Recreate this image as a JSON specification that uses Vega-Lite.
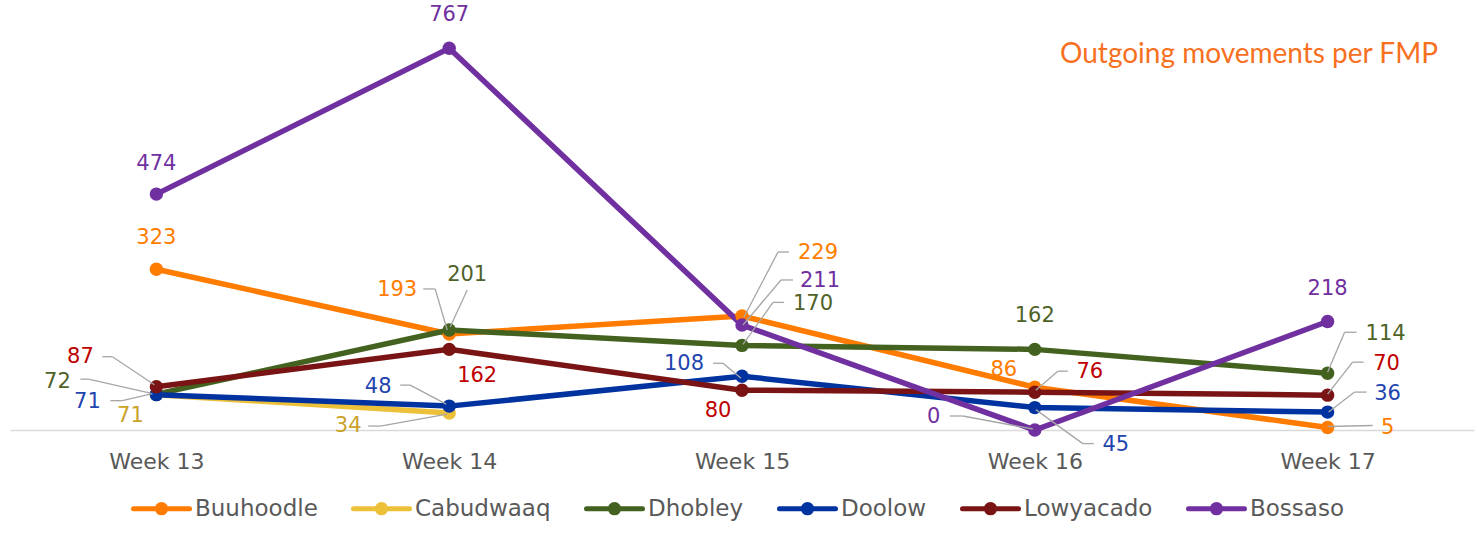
{
  "$schema": "https://vega.github.io/schema/vega-lite/v6.json",
  "width": 1464,
  "height": 428,
  "padding": {"left": 10, "top": 2, "right": 3, "bottom": 0},
  "background": "white",
  "config": {
    "view": {"stroke": null},
    "font": "DejaVu Sans",
    "text": {"fontSize": 21, "font": "DejaVu Sans", "baseline": "middle", "align": "center"},
    "rule": {"color": "#A6A6A6", "strokeWidth": 1.3}
  },
  "title": {
    "text": "Outgoing movements per FMP",
    "anchor": "end",
    "frame": "group",
    "font": "Lato",
    "fontSize": 28,
    "fontWeight": "normal",
    "color": "#F7701F",
    "offset": -67,
    "dx": -36
  },
  "data": {
    "values": [
      {"series": "Buuhoodle", "week": "Week 13", "value": 323},
      {"series": "Buuhoodle", "week": "Week 14", "value": 193},
      {"series": "Buuhoodle", "week": "Week 15", "value": 229},
      {"series": "Buuhoodle", "week": "Week 16", "value": 86},
      {"series": "Buuhoodle", "week": "Week 17", "value": 5},
      {"series": "Cabudwaaq", "week": "Week 13", "value": 71},
      {"series": "Cabudwaaq", "week": "Week 14", "value": 34},
      {"series": "Dhobley", "week": "Week 13", "value": 72},
      {"series": "Dhobley", "week": "Week 14", "value": 201},
      {"series": "Dhobley", "week": "Week 15", "value": 170},
      {"series": "Dhobley", "week": "Week 16", "value": 162},
      {"series": "Dhobley", "week": "Week 17", "value": 114},
      {"series": "Doolow", "week": "Week 13", "value": 71},
      {"series": "Doolow", "week": "Week 14", "value": 48},
      {"series": "Doolow", "week": "Week 15", "value": 108},
      {"series": "Doolow", "week": "Week 16", "value": 45},
      {"series": "Doolow", "week": "Week 17", "value": 36},
      {"series": "Lowyacado", "week": "Week 13", "value": 87},
      {"series": "Lowyacado", "week": "Week 14", "value": 162},
      {"series": "Lowyacado", "week": "Week 15", "value": 80},
      {"series": "Lowyacado", "week": "Week 16", "value": 76},
      {"series": "Lowyacado", "week": "Week 17", "value": 70},
      {"series": "Bossaso", "week": "Week 13", "value": 474},
      {"series": "Bossaso", "week": "Week 14", "value": 767},
      {"series": "Bossaso", "week": "Week 15", "value": 211},
      {"series": "Bossaso", "week": "Week 16", "value": 0},
      {"series": "Bossaso", "week": "Week 17", "value": 218}
    ]
  },
  "encoding": {
    "x": {
      "field": "week", "type": "ordinal",
      "scale": {"type": "point", "padding": 0.5},
      "axis": {"title": null, "labelAngle": 0, "ticks": false, "grid": false, "domainColor": "#D9D9D9", "domainWidth": 1.5, "labelFontSize": 22, "labelColor": "#595959", "labelPadding": 21, "labelFont": "DejaVu Sans"}
    },
    "y": {"field": "value", "type": "quantitative", "scale": {"domain": [0, 860]}, "axis": null}
  },
  "layer": [
    {
      "mark": {"type": "line", "strokeWidth": 5.5, "point": {"filled": true, "size": 180}},
      "encoding": {
        "color": {
          "field": "series", "type": "nominal",
          "scale": {
            "domain": ["Buuhoodle", "Cabudwaaq", "Dhobley", "Doolow", "Lowyacado", "Bossaso"],
            "range": ["#FF7C00", "#EDC03A", "#43611F", "#0033A0", "#7A1414", "#7030A0"]
          },
          "legend": {
            "orient": "none", "legendX": 121, "legendY": 476, "direction": "horizontal", "title": null,
            "labelFontSize": 23, "labelColor": "#595959", "labelFont": "DejaVu Sans",
            "symbolType": "M-1,0L1,0M0,-0.15A0.15,0.15,0,1,1,0,0.15A0.15,0.15,0,1,1,0,-0.15",
            "symbolSize": 3136, "symbolStrokeWidth": 5, "columnPadding": 25, "labelOffset": 3,
            "encode": {"symbols": {"update": {"fill": {"scale": "color", "field": "value"}, "stroke": {"scale": "color", "field": "value"}, "strokeWidth": {"value": 5}, "strokeCap": {"value": "round"}, "opacity": {"value": 1}}}}
          }
        }
      }
    },
    {"transform": [{"filter": "datum.series==='Bossaso' && datum.week==='Week 13'"}], "mark": {"type": "text", "dy": -30, "color": "#7030A0"}, "encoding": {"text": {"field": "value"}}},
    {"transform": [{"filter": "datum.series==='Buuhoodle' && datum.week==='Week 13'"}], "mark": {"type": "text", "dy": -31, "color": "#FF7C00"}, "encoding": {"text": {"field": "value"}}},
    {"transform": [{"filter": "datum.series==='Lowyacado' && datum.week==='Week 13'"}], "layer": [
      {"mark": {"type": "rule", "xOffset": -54, "yOffset": -30, "x2Offset": -44, "y2Offset": -30}, "encoding": {"x2": {"field": "week"}, "y2": {"field": "value"}}},
      {"mark": {"type": "rule", "xOffset": -44, "yOffset": -30, "x2Offset": -2, "y2Offset": -2}, "encoding": {"x2": {"field": "week"}, "y2": {"field": "value"}}},
      {"mark": {"type": "text", "dx": -76, "dy": -30, "color": "#C00000"}, "encoding": {"text": {"field": "value"}}}
    ]},
    {"transform": [{"filter": "datum.series==='Dhobley' && datum.week==='Week 13'"}], "layer": [
      {"mark": {"type": "rule", "xOffset": -76, "yOffset": -15, "x2Offset": -68, "y2Offset": -15}, "encoding": {"x2": {"field": "week"}, "y2": {"field": "value"}}},
      {"mark": {"type": "rule", "xOffset": -68, "yOffset": -15, "x2Offset": -6, "y2Offset": -1}, "encoding": {"x2": {"field": "week"}, "y2": {"field": "value"}}},
      {"mark": {"type": "text", "dx": -99, "dy": -12, "color": "#4F6228"}, "encoding": {"text": {"field": "value"}}}
    ]},
    {"transform": [{"filter": "datum.series==='Doolow' && datum.week==='Week 13'"}], "layer": [
      {"mark": {"type": "rule", "xOffset": -46, "yOffset": 6, "x2Offset": -34, "y2Offset": 6}, "encoding": {"x2": {"field": "week"}, "y2": {"field": "value"}}},
      {"mark": {"type": "rule", "xOffset": -34, "yOffset": 6, "x2Offset": -4, "y2Offset": -1}, "encoding": {"x2": {"field": "week"}, "y2": {"field": "value"}}},
      {"mark": {"type": "text", "dx": -69, "dy": 7, "color": "#1F45AE"}, "encoding": {"text": {"field": "value"}}}
    ]},
    {"transform": [{"filter": "datum.series==='Cabudwaaq' && datum.week==='Week 13'"}], "mark": {"type": "text", "dx": -26, "dy": 21, "color": "#C9A227"}, "encoding": {"text": {"field": "value"}}},
    {"transform": [{"filter": "datum.series==='Bossaso' && datum.week==='Week 14'"}], "mark": {"type": "text", "dy": -33, "color": "#7030A0"}, "encoding": {"text": {"field": "value"}}},
    {"transform": [{"filter": "datum.series==='Buuhoodle' && datum.week==='Week 14'"}], "layer": [
      {"mark": {"type": "rule", "xOffset": -26, "yOffset": -45, "x2Offset": -14, "y2Offset": -45}, "encoding": {"x2": {"field": "week"}, "y2": {"field": "value"}}},
      {"mark": {"type": "rule", "xOffset": -14, "yOffset": -45, "x2Offset": -2, "y2Offset": -4}, "encoding": {"x2": {"field": "week"}, "y2": {"field": "value"}}},
      {"mark": {"type": "text", "dx": -52, "dy": -44, "color": "#FF7C00"}, "encoding": {"text": {"field": "value"}}}
    ]},
    {"transform": [{"filter": "datum.series==='Dhobley' && datum.week==='Week 14'"}], "layer": [
      {"mark": {"type": "rule", "xOffset": 18, "yOffset": -40, "x2Offset": 1, "y2Offset": -3}, "encoding": {"x2": {"field": "week"}, "y2": {"field": "value"}}},
      {"mark": {"type": "text", "dx": 18, "dy": -55, "color": "#4F6228"}, "encoding": {"text": {"field": "value"}}}
    ]},
    {"transform": [{"filter": "datum.series==='Lowyacado' && datum.week==='Week 14'"}], "mark": {"type": "text", "dx": 28, "dy": 27, "color": "#C00000"}, "encoding": {"text": {"field": "value"}}},
    {"transform": [{"filter": "datum.series==='Doolow' && datum.week==='Week 14'"}], "layer": [
      {"mark": {"type": "rule", "xOffset": -49, "yOffset": -21, "x2Offset": -39, "y2Offset": -21}, "encoding": {"x2": {"field": "week"}, "y2": {"field": "value"}}},
      {"mark": {"type": "rule", "xOffset": -39, "yOffset": -21, "x2Offset": -3, "y2Offset": -2}, "encoding": {"x2": {"field": "week"}, "y2": {"field": "value"}}},
      {"mark": {"type": "text", "dx": -71, "dy": -19, "color": "#1F45AE"}, "encoding": {"text": {"field": "value"}}}
    ]},
    {"transform": [{"filter": "datum.series==='Cabudwaaq' && datum.week==='Week 14'"}], "layer": [
      {"mark": {"type": "rule", "xOffset": -81, "yOffset": 13, "x2Offset": -69, "y2Offset": 13}, "encoding": {"x2": {"field": "week"}, "y2": {"field": "value"}}},
      {"mark": {"type": "rule", "xOffset": -69, "yOffset": 13, "x2Offset": -2, "y2Offset": 1}, "encoding": {"x2": {"field": "week"}, "y2": {"field": "value"}}},
      {"mark": {"type": "text", "dx": -101, "dy": 13, "color": "#C9A227"}, "encoding": {"text": {"field": "value"}}}
    ]},
    {"transform": [{"filter": "datum.series==='Buuhoodle' && datum.week==='Week 15'"}], "layer": [
      {"mark": {"type": "rule", "xOffset": 47, "yOffset": -64, "x2Offset": 36, "y2Offset": -64}, "encoding": {"x2": {"field": "week"}, "y2": {"field": "value"}}},
      {"mark": {"type": "rule", "xOffset": 36, "yOffset": -64, "x2Offset": 2, "y2Offset": 1}, "encoding": {"x2": {"field": "week"}, "y2": {"field": "value"}}},
      {"mark": {"type": "text", "dx": 76, "dy": -63, "color": "#FF7C00"}, "encoding": {"text": {"field": "value"}}}
    ]},
    {"transform": [{"filter": "datum.series==='Bossaso' && datum.week==='Week 15'"}], "layer": [
      {"mark": {"type": "rule", "xOffset": 51, "yOffset": -45, "x2Offset": 39, "y2Offset": -45}, "encoding": {"x2": {"field": "week"}, "y2": {"field": "value"}}},
      {"mark": {"type": "rule", "xOffset": 39, "yOffset": -45, "x2Offset": 1, "y2Offset": 0}, "encoding": {"x2": {"field": "week"}, "y2": {"field": "value"}}},
      {"mark": {"type": "text", "dx": 78, "dy": -44, "color": "#7030A0"}, "encoding": {"text": {"field": "value"}}}
    ]},
    {"transform": [{"filter": "datum.series==='Dhobley' && datum.week==='Week 15'"}], "layer": [
      {"mark": {"type": "rule", "xOffset": 42, "yOffset": -43, "x2Offset": 31, "y2Offset": -43}, "encoding": {"x2": {"field": "week"}, "y2": {"field": "value"}}},
      {"mark": {"type": "rule", "xOffset": 31, "yOffset": -43, "x2Offset": 1, "y2Offset": -1}, "encoding": {"x2": {"field": "week"}, "y2": {"field": "value"}}},
      {"mark": {"type": "text", "dx": 71, "dy": -41, "color": "#4F6228"}, "encoding": {"text": {"field": "value"}}}
    ]},
    {"transform": [{"filter": "datum.series==='Doolow' && datum.week==='Week 15'"}], "layer": [
      {"mark": {"type": "rule", "xOffset": -29, "yOffset": -13, "x2Offset": -19, "y2Offset": -13}, "encoding": {"x2": {"field": "week"}, "y2": {"field": "value"}}},
      {"mark": {"type": "rule", "xOffset": -19, "yOffset": -13, "x2Offset": -1, "y2Offset": 2}, "encoding": {"x2": {"field": "week"}, "y2": {"field": "value"}}},
      {"mark": {"type": "text", "dx": -58, "dy": -12, "color": "#1F45AE"}, "encoding": {"text": {"field": "value"}}}
    ]},
    {"transform": [{"filter": "datum.series==='Lowyacado' && datum.week==='Week 15'"}], "mark": {"type": "text", "dx": -24, "dy": 21, "color": "#C00000"}, "encoding": {"text": {"field": "value"}}},
    {"transform": [{"filter": "datum.series==='Dhobley' && datum.week==='Week 16'"}], "mark": {"type": "text", "dy": -33, "color": "#4F6228"}, "encoding": {"text": {"field": "value"}}},
    {"transform": [{"filter": "datum.series==='Buuhoodle' && datum.week==='Week 16'"}], "mark": {"type": "text", "dx": -31, "dy": -17, "color": "#FF7C00"}, "encoding": {"text": {"field": "value"}}},
    {"transform": [{"filter": "datum.series==='Lowyacado' && datum.week==='Week 16'"}], "layer": [
      {"mark": {"type": "rule", "xOffset": 33, "yOffset": -21, "x2Offset": 23, "y2Offset": -21}, "encoding": {"x2": {"field": "week"}, "y2": {"field": "value"}}},
      {"mark": {"type": "rule", "xOffset": 23, "yOffset": -21, "x2Offset": 1, "y2Offset": -2}, "encoding": {"x2": {"field": "week"}, "y2": {"field": "value"}}},
      {"mark": {"type": "text", "dx": 55, "dy": -20, "color": "#C00000"}, "encoding": {"text": {"field": "value"}}}
    ]},
    {"transform": [{"filter": "datum.series==='Doolow' && datum.week==='Week 16'"}], "layer": [
      {"mark": {"type": "rule", "xOffset": 59, "yOffset": 36, "x2Offset": 48, "y2Offset": 36}, "encoding": {"x2": {"field": "week"}, "y2": {"field": "value"}}},
      {"mark": {"type": "rule", "xOffset": 48, "yOffset": 36, "x2Offset": 1, "y2Offset": 2}, "encoding": {"x2": {"field": "week"}, "y2": {"field": "value"}}},
      {"mark": {"type": "text", "dx": 81, "dy": 37, "color": "#1F45AE"}, "encoding": {"text": {"field": "value"}}}
    ]},
    {"transform": [{"filter": "datum.series==='Bossaso' && datum.week==='Week 16'"}], "layer": [
      {"mark": {"type": "rule", "xOffset": -85, "yOffset": -14, "x2Offset": -72, "y2Offset": -14}, "encoding": {"x2": {"field": "week"}, "y2": {"field": "value"}}},
      {"mark": {"type": "rule", "xOffset": -72, "yOffset": -14, "x2Offset": -2, "y2Offset": -1}, "encoding": {"x2": {"field": "week"}, "y2": {"field": "value"}}},
      {"mark": {"type": "text", "dx": -101, "dy": -13, "color": "#7030A0"}, "encoding": {"text": {"field": "value"}}}
    ]},
    {"transform": [{"filter": "datum.series==='Bossaso' && datum.week==='Week 17'"}], "mark": {"type": "text", "dy": -33, "color": "#7030A0"}, "encoding": {"text": {"field": "value"}}},
    {"transform": [{"filter": "datum.series==='Dhobley' && datum.week==='Week 17'"}], "layer": [
      {"mark": {"type": "rule", "xOffset": 29, "yOffset": -41, "x2Offset": 17, "y2Offset": -41}, "encoding": {"x2": {"field": "week"}, "y2": {"field": "value"}}},
      {"mark": {"type": "rule", "xOffset": 17, "yOffset": -41, "x2Offset": 0, "y2Offset": -1}, "encoding": {"x2": {"field": "week"}, "y2": {"field": "value"}}},
      {"mark": {"type": "text", "dx": 58, "dy": -39, "color": "#4F6228"}, "encoding": {"text": {"field": "value"}}}
    ]},
    {"transform": [{"filter": "datum.series==='Lowyacado' && datum.week==='Week 17'"}], "layer": [
      {"mark": {"type": "rule", "xOffset": 36, "yOffset": -33, "x2Offset": 25, "y2Offset": -33}, "encoding": {"x2": {"field": "week"}, "y2": {"field": "value"}}},
      {"mark": {"type": "rule", "xOffset": 25, "yOffset": -33, "x2Offset": 0, "y2Offset": -1}, "encoding": {"x2": {"field": "week"}, "y2": {"field": "value"}}},
      {"mark": {"type": "text", "dx": 59, "dy": -31, "color": "#C00000"}, "encoding": {"text": {"field": "value"}}}
    ]},
    {"transform": [{"filter": "datum.series==='Doolow' && datum.week==='Week 17'"}], "layer": [
      {"mark": {"type": "rule", "xOffset": 39, "yOffset": -20, "x2Offset": 27, "y2Offset": -20}, "encoding": {"x2": {"field": "week"}, "y2": {"field": "value"}}},
      {"mark": {"type": "rule", "xOffset": 27, "yOffset": -20, "x2Offset": 1, "y2Offset": 0}, "encoding": {"x2": {"field": "week"}, "y2": {"field": "value"}}},
      {"mark": {"type": "text", "dx": 60, "dy": -18, "color": "#1F45AE"}, "encoding": {"text": {"field": "value"}}}
    ]},
    {"transform": [{"filter": "datum.series==='Buuhoodle' && datum.week==='Week 17'"}], "layer": [
      {"mark": {"type": "rule", "xOffset": 45, "yOffset": -2, "x2Offset": 0, "y2Offset": -1}, "encoding": {"x2": {"field": "week"}, "y2": {"field": "value"}}},
      {"mark": {"type": "text", "dx": 60, "dy": 0, "color": "#FF7C00"}, "encoding": {"text": {"field": "value"}}}
    ]}
  ]
}
